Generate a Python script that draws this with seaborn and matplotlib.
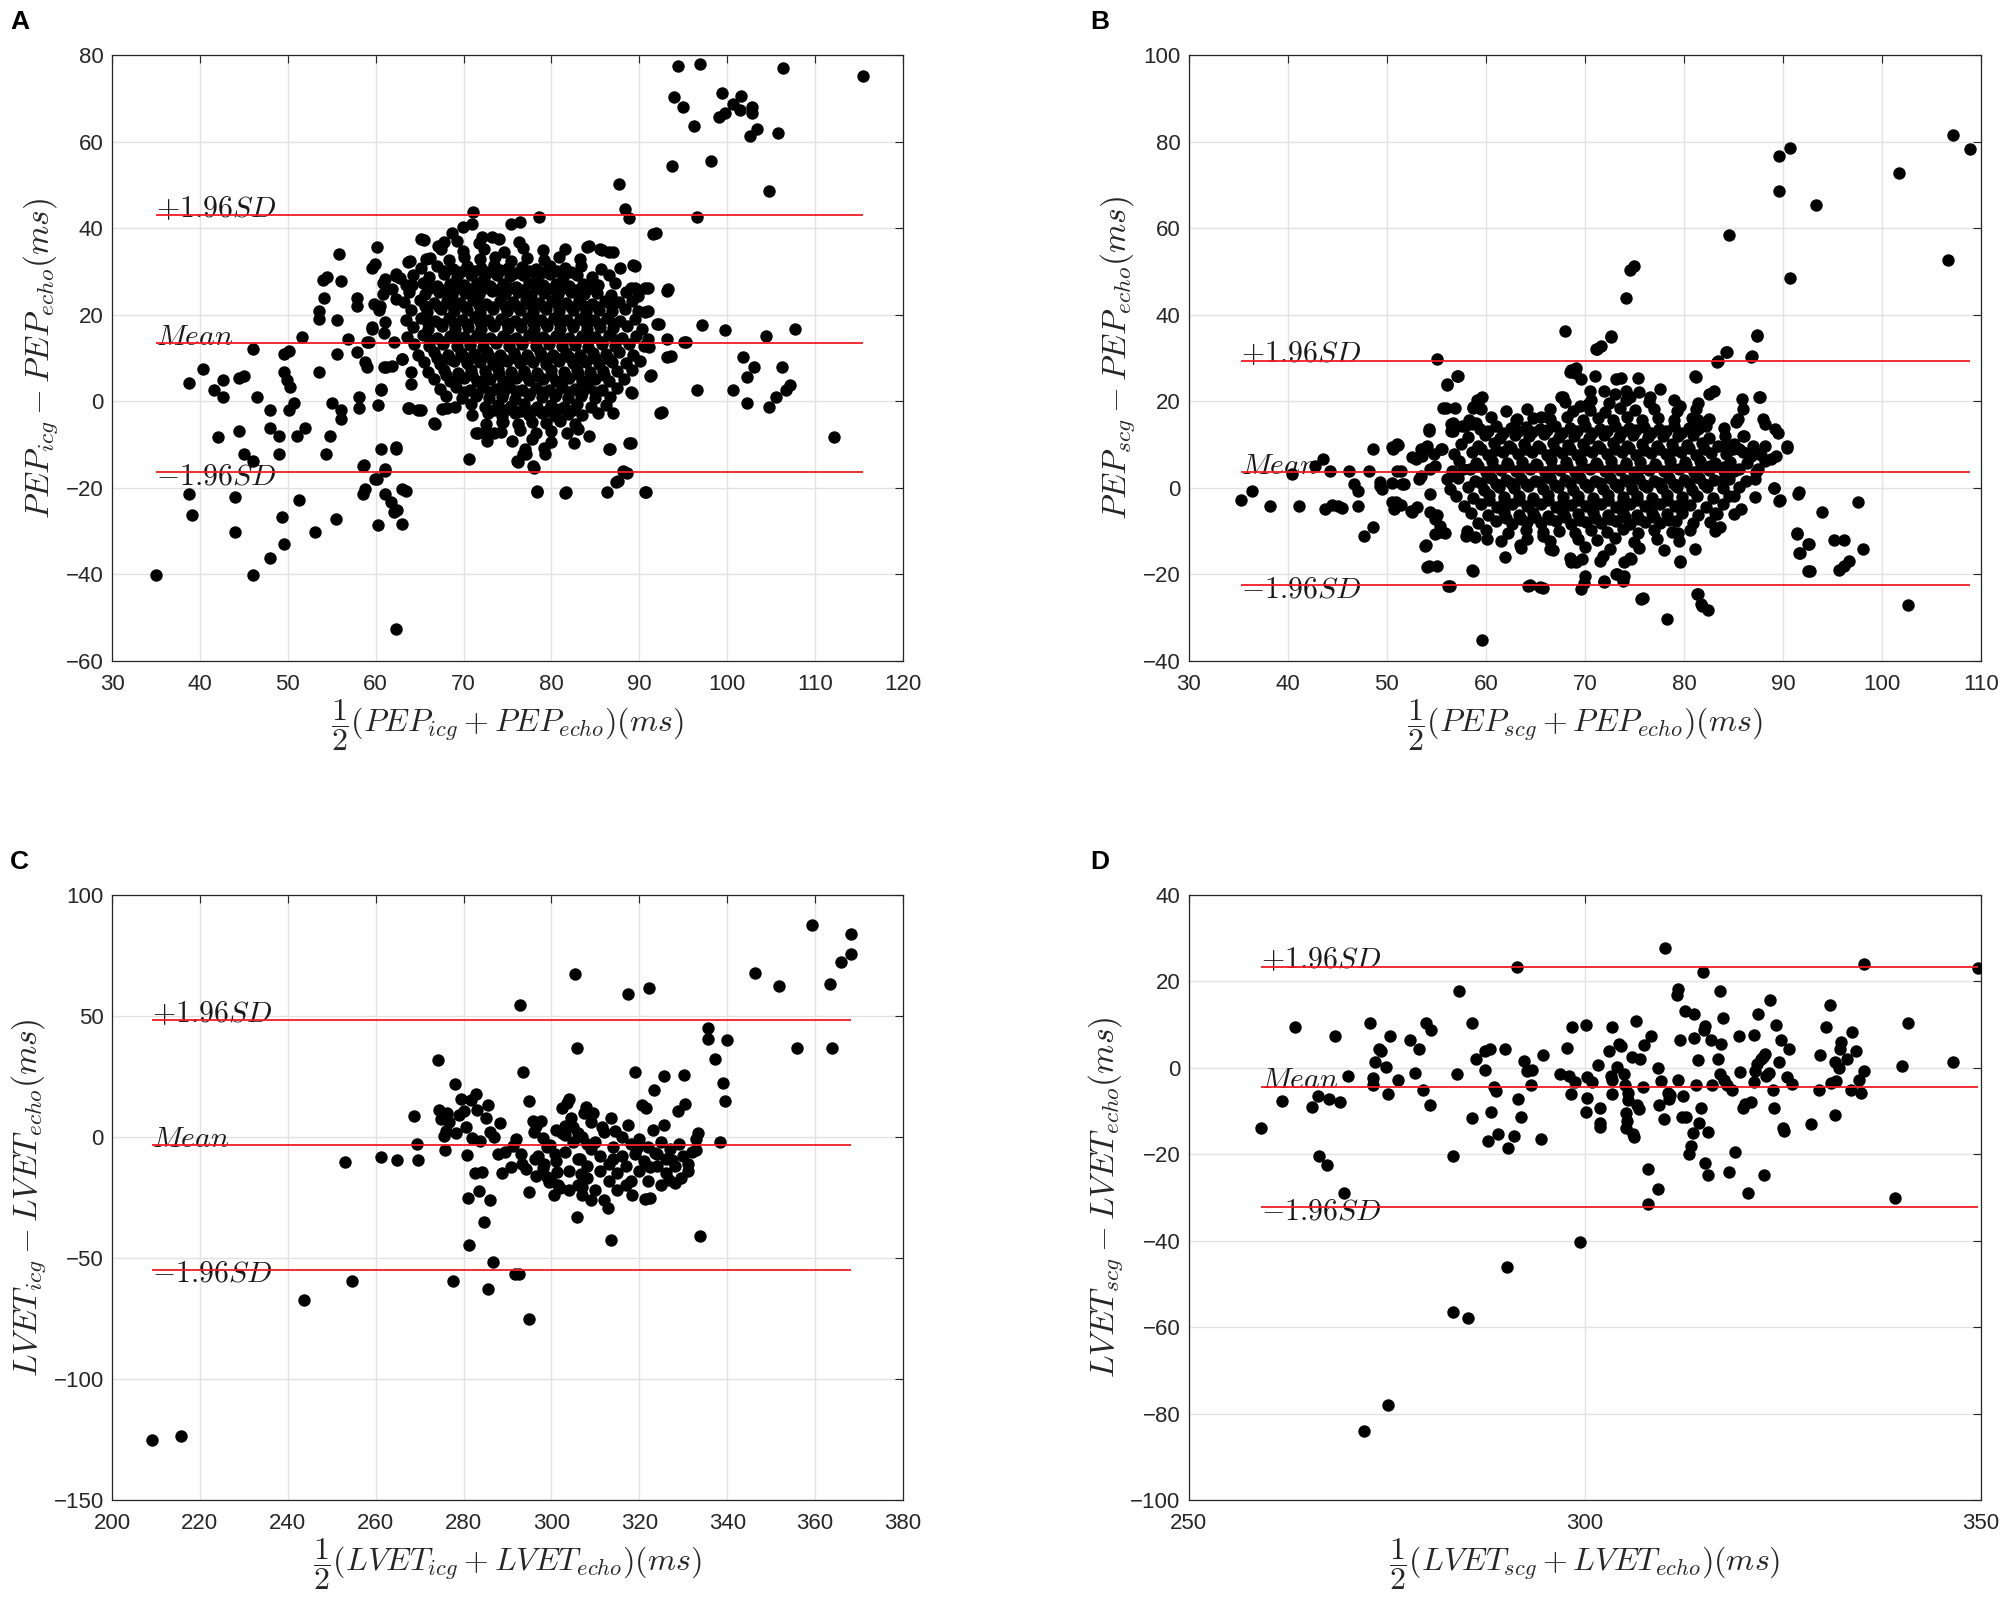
import pandas as pd
import matplotlib
matplotlib.use('Agg')
import matplotlib.pyplot as plt
import seaborn as sns

# valores: (media dos dois metodos, diferenca) em ms

# painel A - PEP icg x echo
a_esparsos = [
    (35.0, -40.1), (38.8, 4.2), (38.8, -21.5), (39.1, -26.2), (40.3, 7.4), (41.6, 2.6), (42.1, -8.2),
    (42.6, 5.0), (42.6, 0.9), (44.0, -22.1), (44.0, -30.1), (44.4, -6.8), (44.4, 5.3), (45.0, 5.8),
    (45.0, -12.1), (46.0, 12.0), (46.0, -13.8), (46.0, -40.1), (46.5, 0.9), (48.0, -36.2), (48.0, -2.1),
    (48.0, -6.2), (49.0, -8.0), (49.0, -12.1), (49.3, -26.8), (49.6, -33.0), (49.6, 6.8), (49.6, 10.9),
    (49.9, 5.0), (50.1, 11.7), (50.3, 3.2), (50.1, -2.1), (50.7, -0.3), (51.0, -8.0), (51.3, -22.7),
    (51.6, 14.8), (52.0, -6.2), (53.1, -30.1), (53.6, 6.8), (53.6, 20.9), (53.6, 19.1), (54.0, 28.0),
    (54.1, 23.8), (54.5, 28.8), (54.3, -12.1), (54.8, -8.0), (55.0, -0.3), (55.5, -27.1), (55.6, 18.8),
    (55.6, 10.9), (55.8, 34.1), (56.1, 27.7), (56.1, -2.1), (56.1, -4.1), (56.9, 14.4), (57.9, 23.8),
    (57.9, 22.0), (57.9, 11.5), (58.1, 0.9), (58.1, -1.5), (58.5, -15.0), (58.5, -21.3), (58.8, -20.3),
    (58.8, 9.1), (59.0, 8.0), (59.2, 13.8), (59.6, 16.8), (59.6, 30.9), (59.9, 31.7), (60.1, 35.6),
    (59.9, -18.0), (60.3, -0.9), (60.3, -28.6), (60.6, 2.6), (60.6, -10.9), (60.5, 22.0), (60.8, 27.4),
    (61.1, 28.2), (60.8, 24.7), (61.1, -15.6), (61.1, -21.5), (61.2, 8.0), (61.7, -23.3), (62.1, -25.6),
    (62.3, -10.9), (62.3, -52.7), (62.4, -25.0), (62.3, 29.0), (62.8, 28.5), (63.0, -20.3), (63.0, -28.3),
    (63.0, 9.7), (63.7, -1.5), (63.7, 32.1), (64.1, 26.8), (64.8, -2.1), (65.2, 37.4), (66.6, -5.0),
    (68.1, -1.5), (69.9, 40.3), (71.0, 40.9), (70.6, -13.3), (71.1, 43.8), (71.4, -7.4), (72.5, -6.8),
    (73.2, 38.0), (75.4, 40.9), (76.4, 41.5), (76.1, -13.8), (76.8, -12.1), (77.9, -15.0), (78.3, -20.9),
    (78.6, 42.7), (79.3, -12.1), (81.5, -21.1), (82.6, -9.7), (84.1, 35.6), (85.5, 35.1), (86.6, 34.4),
    (86.3, -20.9), (86.6, -10.9), (87.0, -2.7), (87.3, -18.6), (87.7, 50.3), (88.1, -16.2), (88.4, 44.4),
    (88.8, 42.3), (88.8, -9.7), (89.1, 2.1), (89.3, 31.5), (89.5, 26.2), (89.9, 24.4), (90.6, -20.9),
    (90.6, 26.2), (91.0, 20.9), (91.0, 14.4), (91.2, 5.8), (91.5, 38.6), (92.0, 17.9), (92.4, -2.7),
    (93.1, 25.6), (93.1, 10.3), (93.7, 54.4), (93.9, 70.3), (94.4, 77.4), (95.0, 68.0), (95.1, 13.8),
    (96.2, 63.5), (96.6, 42.7), (96.6, 2.6), (96.9, 78.0), (97.1, 17.7), (98.1, 55.6), (99.1, 65.6),
    (99.4, 71.2), (99.7, 66.6), (99.7, 16.4), (100.6, 2.6), (100.6, 68.6), (101.5, 67.4), (101.6, 70.6),
    (101.8, 10.3), (102.2, 5.6), (102.2, -0.3), (102.6, 61.2), (102.8, 68.0), (102.8, 66.6), (103.1, 7.9),
    (103.4, 62.9), (104.4, 15.0), (104.7, 48.6), (104.7, -1.2), (105.6, 0.9), (105.8, 62.1), (106.2, 7.9),
    (106.4, 77.1), (106.7, 2.6), (107.1, 3.8), (107.7, 16.8), (112.1, -8.3), (115.4, 75.1),
    (72.1, 37.9), (68.7, 39.0), (65.5, 37.3), (67.1, 36.0), (67.8, 36.7), (63.9, 32.5), (65.7, 32.9),
    (62.3, 29.4), (61.9, 26.0), (62.3, 23.6), (59.8, 22.5), (60.4, 21.0), (59.6, 17.1), (61.1, 18.3),
    (61.0, 15.9), (59.0, 13.6), (62.1, 13.6), (63.0, 9.8), (61.9, 8.2), (60.9, 7.9), (64.0, 6.7),
    (64.0, 4.0), (60.6, 2.9), (63.8, -1.6), (65.1, -2.1), (66.7, -5.2), (67.6, -1.8), (71.6, -7.2),
    (72.7, -9.1), (73.5, -7.2), (74.4, -4.8), (76.2, -13.9), (77.1, -12.2), (62.3, -10.6), (58.7, -14.8),
    (61.1, -16.0), (60.2, -17.9), (63.4, -20.6), (88.6, -16.5), (87.6, -18.5), (90.8, -21.0), (81.7, -21.0),
    (78.4, -20.6), (78.0, -15.5), (84.3, -8.1), (83.0, -6.4), (86.7, -11.0), (89.0, -9.6), (92.6, -2.5),
    (91.3, 6.0), (89.2, 1.9), (91.1, 12.5), (93.6, 10.5), (93.2, 14.4), (95.3, 13.6), (92.2, 17.9),
    (90.7, 20.7), (93.3, 26.0), (91.0, 26.3), (89.0, 26.3), (89.5, 31.3), (87.8, 30.8), (87.0, 34.4),
    (85.7, 35.0), (84.3, 35.8), (91.9, 38.9),
]
a_nucleo = [
    (69.2, 37.1), (71.8, 36.6), (74.0, 37.4), (76.3, 36.8),
    (67.4, 35.3), (69.9, 34.7), (72.3, 35.1), (74.6, 34.6), (76.8, 35.4), (79.0, 34.9), (81.5, 35.2),
    (66.2, 33.1), (68.3, 32.6), (70.1, 33.4), (71.9, 32.8), (73.6, 33.3), (75.4, 32.5), (77.2, 33.2),
    (79.1, 32.7), (80.9, 33.4), (83.2, 32.9),
    (65.1, 30.8), (67.0, 31.3), (68.8, 30.6), (70.4, 31.2), (72.0, 30.7), (73.5, 31.4), (75.0, 30.9),
    (76.6, 31.1), (78.2, 30.5), (79.8, 31.3), (81.5, 30.8), (83.4, 31.2), (85.6, 30.6),
    (64.3, 29.2), (66.1, 28.7), (67.8, 29.4), (69.3, 28.8), (70.8, 29.1), (72.3, 28.5), (73.8, 29.3),
    (75.3, 28.9), (76.8, 29.2), (78.3, 28.6), (79.8, 29.4), (81.3, 28.8), (82.9, 29.1), (84.6, 28.7),
    (86.5, 29.2),
    (63.5, 26.8), (65.4, 27.3), (67.0, 26.6), (68.5, 27.2), (70.0, 26.9), (71.5, 27.4), (73.0, 26.7),
    (74.5, 27.1), (76.0, 26.5), (77.5, 27.3), (79.0, 26.8), (80.5, 27.2), (82.0, 26.6), (83.6, 27.1),
    (85.3, 26.9), (87.2, 27.3),
    (63.8, 25.2), (65.6, 24.7), (67.2, 25.3), (68.7, 24.6), (70.2, 25.1), (71.7, 24.8), (73.2, 25.4),
    (74.7, 24.9), (76.2, 25.2), (77.7, 24.5), (79.2, 25.1), (80.7, 24.8), (82.2, 25.3), (83.7, 24.7),
    (85.2, 25.0), (86.8, 24.6), (88.5, 25.2),
    (63.2, 22.9), (65.0, 23.3), (66.6, 22.7), (68.1, 23.2), (69.6, 22.8), (71.1, 23.4), (72.6, 22.6),
    (74.1, 23.1), (75.6, 22.9), (77.1, 23.3), (78.6, 22.7), (80.1, 23.2), (81.6, 22.8), (83.1, 23.4),
    (84.6, 22.6), (86.1, 23.1), (87.7, 22.9), (89.2, 23.2),
    (64.0, 21.2), (65.8, 20.7), (67.4, 21.3), (68.9, 20.8), (70.4, 21.1), (71.9, 20.6), (73.4, 21.4),
    (74.9, 20.9), (76.4, 21.2), (77.9, 20.7), (79.4, 21.3), (80.9, 20.8), (82.4, 21.1), (83.9, 20.6),
    (85.4, 21.2), (86.9, 20.9), (88.4, 21.3), (89.9, 20.8),
    (63.4, 18.8), (65.2, 19.3), (66.8, 18.6), (68.3, 19.2), (69.8, 18.9), (71.3, 19.4), (72.8, 18.7),
    (74.3, 19.1), (75.8, 18.6), (77.3, 19.3), (78.8, 18.8), (80.3, 19.2), (81.8, 18.7), (83.3, 19.1),
    (84.8, 18.9), (86.3, 19.3), (87.8, 18.6), (89.5, 19.1),
    (64.2, 17.2), (65.9, 16.7), (67.5, 17.3), (69.0, 16.8), (70.5, 17.1), (72.0, 16.6), (73.5, 17.4),
    (75.0, 16.9), (76.5, 17.2), (78.0, 16.7), (79.5, 17.3), (81.0, 16.8), (82.5, 17.1), (84.0, 16.6),
    (85.5, 17.2), (87.0, 16.9), (88.6, 17.3), (90.3, 16.8),
    (63.6, 14.8), (65.4, 15.3), (67.0, 14.6), (68.5, 15.2), (70.0, 14.9), (71.5, 15.4), (73.0, 14.7),
    (74.5, 15.1), (76.0, 14.6), (77.5, 15.3), (79.0, 14.8), (80.5, 15.2), (82.0, 14.7), (83.5, 15.1),
    (85.0, 14.9), (86.5, 15.3), (88.0, 14.6), (89.6, 15.1),
    (64.4, 13.2), (66.1, 12.7), (67.7, 13.3), (69.2, 12.8), (70.7, 13.1), (72.2, 12.6), (73.7, 13.4),
    (75.2, 12.9), (76.7, 13.2), (78.2, 12.7), (79.7, 13.3), (81.2, 12.8), (82.7, 13.1), (84.2, 12.6),
    (85.7, 13.2), (87.2, 12.9), (88.8, 13.3), (90.5, 12.8),
    (64.8, 10.8), (66.6, 11.3), (68.2, 10.6), (69.7, 11.2), (71.2, 10.9), (72.7, 11.4), (74.2, 10.7),
    (75.7, 11.1), (77.2, 10.6), (78.7, 11.3), (80.2, 10.8), (81.7, 11.2), (83.2, 10.7), (84.7, 11.1),
    (86.2, 10.9), (87.7, 11.3), (89.3, 10.7),
    (65.5, 9.2), (67.3, 8.7), (68.9, 9.3), (70.4, 8.8), (71.9, 9.1), (73.4, 8.6), (74.9, 9.4),
    (76.4, 8.9), (77.9, 9.2), (79.4, 8.7), (80.9, 9.3), (82.4, 8.8), (83.9, 9.1), (85.4, 8.6),
    (86.9, 9.2), (88.5, 8.9), (90.1, 9.3),
    (66.0, 6.8), (67.8, 7.3), (69.4, 6.6), (70.9, 7.2), (72.4, 6.9), (73.9, 7.4), (75.4, 6.7),
    (76.9, 7.1), (78.4, 6.6), (79.9, 7.3), (81.4, 6.8), (82.9, 7.2), (84.4, 6.7), (85.9, 7.1),
    (87.5, 6.9), (89.2, 7.3),
    (66.6, 5.2), (68.4, 4.7), (70.0, 5.3), (71.5, 4.8), (73.0, 5.1), (74.5, 4.6), (76.0, 5.4),
    (77.5, 4.9), (79.0, 5.2), (80.5, 4.7), (82.0, 5.3), (83.5, 4.8), (85.0, 5.1), (86.6, 4.6), (88.3, 5.2),
    (67.3, 2.8), (69.1, 3.3), (70.7, 2.6), (72.2, 3.2), (73.7, 2.9), (75.2, 3.4), (76.7, 2.7),
    (78.2, 3.1), (79.7, 2.6), (81.2, 3.3), (82.7, 2.8), (84.2, 3.2), (85.8, 2.7), (87.5, 3.1),
    (68.0, 1.2), (69.8, 0.7), (71.4, 1.3), (72.9, 0.8), (74.4, 1.1), (75.9, 0.6), (77.4, 1.4),
    (78.9, 0.9), (80.4, 1.2), (81.9, 0.7), (83.4, 1.3), (85.0, 0.8), (86.7, 1.1),
    (69.0, -1.2), (70.8, -0.7), (72.4, -1.3), (73.9, -0.8), (75.4, -1.1), (76.9, -0.6), (78.4, -1.4),
    (79.9, -0.9), (81.4, -1.2), (82.9, -0.7), (84.5, -1.3), (86.2, -0.8),
    (71.0, -3.2), (72.8, -2.7), (74.4, -3.3), (75.9, -2.8), (77.4, -3.1), (78.9, -2.6), (80.4, -3.4),
    (81.9, -2.9), (83.5, -3.2), (85.3, -2.7),
    (72.6, -5.2), (74.5, -4.7), (76.2, -5.3), (77.8, -4.8), (79.4, -5.1), (81.0, -4.6), (82.7, -5.2),
    (74.3, -7.1), (76.4, -6.7), (78.2, -7.3), (80.0, -6.8), (81.8, -7.2),
    (75.5, -9.2), (77.8, -8.7), (79.9, -9.3), (77.0, -11.1), (79.2, -10.7),
]
a_miolo = [
    (67.8, 30.1), (69.6, 29.8), (71.2, 30.2), (72.8, 29.9), (74.2, 30.3), (75.8, 29.7), (77.4, 30.1),
    (79.0, 29.8), (80.6, 30.2), (82.2, 29.9),
    (66.2, 26.1), (67.8, 25.8), (69.3, 26.2), (70.8, 25.9), (72.3, 26.3), (73.8, 25.7), (75.3, 26.1),
    (76.8, 25.8), (78.3, 26.2), (79.8, 25.9), (81.3, 26.3), (82.8, 25.7), (84.4, 26.1),
    (65.6, 22.1), (67.2, 21.8), (68.7, 22.2), (70.2, 21.9), (71.7, 22.3), (73.2, 21.7), (74.7, 22.1),
    (76.2, 21.8), (77.7, 22.2), (79.2, 21.9), (80.7, 22.3), (82.2, 21.7), (83.7, 22.1), (85.2, 21.8),
    (86.8, 22.2),
    (65.9, 18.1), (67.4, 17.8), (68.9, 18.2), (70.4, 17.9), (71.9, 18.3), (73.4, 17.7), (74.9, 18.1),
    (76.4, 17.8), (77.9, 18.2), (79.4, 17.9), (80.9, 18.3), (82.4, 17.7), (83.9, 18.1), (85.4, 17.8),
    (87.0, 18.2),
    (66.2, 14.1), (67.7, 13.8), (69.2, 14.2), (70.7, 13.9), (72.2, 14.3), (73.7, 13.7), (75.2, 14.1),
    (76.7, 13.8), (78.2, 14.2), (79.7, 13.9), (81.2, 14.3), (82.7, 13.7), (84.2, 14.1), (85.7, 13.8),
    (87.3, 14.2),
    (67.0, 10.1), (68.5, 9.8), (70.0, 10.2), (71.5, 9.9), (73.0, 10.3), (74.5, 9.7), (76.0, 10.1),
    (77.5, 9.8), (79.0, 10.2), (80.5, 9.9), (82.0, 10.3), (83.5, 9.7), (85.0, 10.1), (86.5, 9.8),
    (68.0, 6.1), (69.5, 5.8), (71.0, 6.2), (72.5, 5.9), (74.0, 6.3), (75.5, 5.7), (77.0, 6.1),
    (78.5, 5.8), (80.0, 6.2), (81.5, 5.9), (83.0, 6.3), (84.5, 5.7), (86.0, 6.1),
    (70.0, 2.1), (71.5, 1.8), (73.0, 2.2), (74.5, 1.9), (76.0, 2.3), (77.5, 1.7), (79.0, 2.1),
    (80.5, 1.8), (82.0, 2.2), (83.5, 1.9), (85.0, 2.1),
    (73.5, -2.1), (75.0, -1.8), (76.5, -2.2), (78.0, -1.9), (79.5, -2.3), (81.0, -1.7), (82.5, -2.1),
]
a_media, a_sup, a_inf = 13.4, 43.0, -16.3

# painel B - PEP scg x echo
b_esparsos = [
    (35.3, -2.7), (36.4, -0.7), (38.2, -4.2), (40.4, 3.2), (41.1, -4.2), (42.7, 5.0), (43.5, 6.7),
    (43.7, -4.8), (44.2, 3.8), (44.5, -3.9), (45.1, -4.2), (45.5, -4.6), (46.2, 3.8), (46.7, 0.9),
    (47.1, -0.6), (47.1, -4.2), (47.7, -11.2), (48.2, 3.8), (48.6, -9.1), (48.6, 9.1), (49.3, 1.4),
    (49.5, -0.3), (50.6, 9.1), (50.9, -3.3), (51.1, 9.9), (51.4, -3.9), (51.4, 3.8), (51.7, 0.9),
    (52.5, -5.6), (52.9, 6.7), (53.2, 2.0), (53.5, 7.3), (53.8, 9.1), (53.8, -13.5), (54.2, -18.0),
    (54.3, 13.2), (54.8, 7.9), (55.1, -18.0), (55.1, 29.7), (55.1, -6.2), (55.6, 9.1), (55.9, -10.3),
    (56.1, 23.8), (56.0, 18.5), (56.4, -22.7), (56.7, 15.0), (56.7, 13.2), (56.9, 18.5), (57.2, 25.8),
    (57.7, 4.4), (58.0, -11.2), (58.7, -19.2), (58.7, 18.5), (59.0, 15.0), (59.2, 19.7), (59.6, 21.1),
    (59.6, -35.1), (64.5, -22.4), (65.8, -23.1), (68.0, 36.2), (67.8, 21.0), (68.6, 27.3), (69.0, 26.5),
    (68.6, -17.0), (69.6, -23.3), (69.9, -22.0), (71.1, 32.0), (71.6, 32.8), (71.9, -21.5), (71.5, -16.8),
    (72.6, 34.8), (73.2, -20.0), (73.8, -21.5), (74.1, 43.8), (74.6, 50.3), (75.0, 51.3), (75.7, -25.6),
    (78.3, -30.3), (79.6, -16.8), (81.2, 25.6), (81.4, -24.5), (81.7, -26.8), (82.4, -28.3), (83.3, 29.1),
    (84.3, 31.5), (84.6, 58.5), (86.8, 30.3), (87.4, 35.2), (87.6, 20.9), (89.1, -0.1), (89.6, -3.0),
    (89.6, 68.6), (89.6, 76.6), (90.4, 9.3), (90.7, 78.6), (90.7, 48.5), (91.5, -1.3), (91.4, -10.7),
    (91.6, -15.0), (92.6, -13.0), (92.7, -19.2), (93.3, 65.3), (93.9, -5.6), (95.2, -12.1), (95.7, -18.9),
    (96.2, -18.0), (96.7, -16.8), (96.2, -12.1), (97.6, -3.3), (98.1, -14.1), (101.7, 72.7), (102.6, -27.0),
    (106.7, 52.7), (107.2, 81.5), (108.9, 78.2),
    (57.1, 25.9), (56.1, 24.0), (55.7, 18.5), (56.5, 14.8), (56.5, 13.2), (57.9, 14.4), (58.6, 14.8),
    (58.7, 18.6), (59.1, 20.2), (54.3, 13.6), (50.5, 9.4), (51.0, 10.1), (52.5, 7.1), (53.4, 9.0),
    (54.0, 9.8), (55.5, 9.0), (51.0, 4.0), (53.4, 2.8), (54.4, 4.4), (54.9, 5.1), (56.1, 2.1),
    (49.3, 0.5), (50.5, 1.1), (51.5, 0.9), (54.4, -1.4), (50.5, -3.3), (50.7, -4.9), (52.4, -5.3),
    (53.0, -4.5), (54.4, -5.6), (54.9, -7.2), (55.4, -8.7), (53.9, -13.3), (54.9, -10.6), (55.4, -10.1),
    (54.0, -18.2), (56.2, -22.6), (58.6, -18.9), (58.1, -9.9), (58.9, -11.4), (60.1, -11.8), (61.9, -16.0),
    (64.3, -22.6), (65.5, -23.0), (63.4, -13.3), (65.8, -11.0), (66.5, -14.1), (67.6, 20.9), (63.1, 15.9),
    (64.1, 18.2), (65.6, 16.3), (68.5, 26.7), (69.1, 27.8), (69.6, 25.2), (69.5, 19.0), (70.3, 19.4),
    (69.1, -17.2), (69.7, -16.4), (70.0, -20.3), (72.6, 35.0), (71.2, 32.1), (71.0, 25.9), (73.1, 25.1),
    (73.6, 25.5), (75.4, 25.3), (74.1, 22.5), (74.6, 20.9), (76.6, 20.9), (77.6, 22.8), (71.9, 22.5),
    (79.6, 19.0), (81.1, 25.9), (81.4, 19.6), (81.4, 15.8), (81.4, 13.6), (82.5, 21.7), (83.0, 22.5),
    (83.4, 29.4), (84.4, 31.3), (86.9, 30.4), (87.4, 35.3), (85.9, 20.5), (87.7, 20.9), (86.0, 18.2),
    (85.5, 15.9), (85.3, 15.2), (86.1, 11.9), (88.0, 15.9), (88.2, 14.8), (88.2, 9.8), (89.2, 13.6),
    (89.5, 12.8), (90.4, 9.6), (84.1, 9.8), (85.0, 9.0), (85.6, 9.0), (86.8, 7.4), (87.3, 8.1),
    (88.8, 6.7), (89.3, 7.4), (87.5, 4.4), (87.2, 2.1), (82.6, 5.1), (84.0, 4.8), (85.1, 4.0),
    (84.1, 2.1), (89.1, -0.1), (89.7, -2.9), (91.6, -1.0), (85.1, -1.8), (87.2, -2.2), (85.1, -6.0),
    (85.8, -4.9), (83.3, -6.0), (83.1, -9.9), (83.6, -9.1), (81.1, -14.0), (79.6, -17.0), (79.4, -10.3),
    (81.3, -24.5), (81.8, -27.2), (75.9, -25.5), (71.9, -21.8), (73.9, -20.3), (73.1, -20.0), (73.9, -17.2),
    (74.7, -16.4), (91.4, -10.3), (91.7, -15.0), (92.5, -13.0), (92.5, -19.1),
]
b_nucleo = [
    (70.5, 22.3), (73.0, 21.7), (75.5, 22.1),
    (68.0, 19.8), (70.6, 20.3), (72.4, 19.7), (74.2, 20.2), (76.5, 19.9), (79.0, 20.3),
    (59.5, 18.2), (62.0, 17.7), (66.5, 18.3), (68.8, 17.8), (70.5, 18.1), (72.0, 17.6), (73.5, 18.4),
    (75.1, 17.9), (77.0, 18.2), (79.3, 17.7), (81.2, 18.3),
    (58.3, 15.8), (60.5, 16.3), (63.0, 15.6), (64.8, 16.2), (66.5, 15.9), (68.2, 16.4), (69.8, 15.7),
    (71.3, 16.1), (72.8, 15.6), (74.3, 16.3), (75.8, 15.8), (77.4, 16.2), (79.0, 15.7), (80.8, 16.1),
    (82.5, 15.9),
    (57.6, 14.2), (59.4, 13.7), (61.0, 14.3), (62.5, 13.8), (64.0, 14.1), (65.5, 13.6), (67.0, 14.4),
    (68.5, 13.9), (70.0, 14.2), (71.5, 13.7), (73.0, 14.3), (74.5, 13.8), (76.0, 14.1), (77.5, 13.6),
    (79.0, 14.2), (80.5, 13.9), (82.2, 14.3), (84.0, 13.8),
    (58.2, 11.8), (59.9, 12.3), (61.4, 11.6), (62.9, 12.2), (64.4, 11.9), (65.9, 12.4), (67.4, 11.7),
    (68.9, 12.1), (70.4, 11.6), (71.9, 12.3), (73.4, 11.8), (74.9, 12.2), (76.4, 11.7), (77.9, 12.1),
    (79.4, 11.9), (80.9, 12.3), (82.5, 11.6), (84.2, 12.1), (86.0, 11.9),
    (57.5, 10.2), (59.2, 9.7), (60.8, 10.3), (62.3, 9.8), (63.8, 10.1), (65.3, 9.6), (66.8, 10.4),
    (68.3, 9.9), (69.8, 10.2), (71.3, 9.7), (72.8, 10.3), (74.3, 9.8), (75.8, 10.1), (77.3, 9.6),
    (78.8, 10.2), (80.3, 9.9), (81.8, 10.3), (83.4, 9.8), (85.1, 10.1), (87.0, 9.7),
    (56.8, 7.8), (58.6, 8.3), (60.2, 7.6), (61.7, 8.2), (63.2, 7.9), (64.7, 8.4), (66.2, 7.7),
    (67.7, 8.1), (69.2, 7.6), (70.7, 8.3), (72.2, 7.8), (73.7, 8.2), (75.2, 7.7), (76.7, 8.1),
    (78.2, 7.9), (79.7, 8.3), (81.2, 7.6), (82.7, 8.1), (84.3, 7.9), (86.0, 8.3), (87.8, 7.7),
    (57.3, 6.2), (59.0, 5.7), (60.6, 6.3), (62.1, 5.8), (63.6, 6.1), (65.1, 5.6), (66.6, 6.4),
    (68.1, 5.9), (69.6, 6.2), (71.1, 5.7), (72.6, 6.3), (74.1, 5.8), (75.6, 6.1), (77.1, 5.6),
    (78.6, 6.2), (80.1, 5.9), (81.6, 6.3), (83.1, 5.8), (84.7, 6.1), (86.4, 5.7), (88.2, 6.2),
    (56.6, 3.8), (58.4, 4.3), (60.0, 3.6), (61.5, 4.2), (63.0, 3.9), (64.5, 4.4), (66.0, 3.7),
    (67.5, 4.1), (69.0, 3.6), (70.5, 4.3), (72.0, 3.8), (73.5, 4.2), (75.0, 3.7), (76.5, 4.1),
    (78.0, 3.9), (79.5, 4.3), (81.0, 3.6), (82.5, 4.1), (84.0, 3.9), (85.6, 4.3), (87.3, 3.7),
    (57.2, 2.2), (58.9, 1.7), (60.5, 2.3), (62.0, 1.8), (63.5, 2.1), (65.0, 1.6), (66.5, 2.4),
    (68.0, 1.9), (69.5, 2.2), (71.0, 1.7), (72.5, 2.3), (74.0, 1.8), (75.5, 2.1), (77.0, 1.6),
    (78.5, 2.2), (80.0, 1.9), (81.5, 2.3), (83.0, 1.8), (84.6, 2.1), (86.3, 1.7),
    (56.4, -0.2), (58.2, 0.3), (59.8, -0.4), (61.3, 0.2), (62.8, -0.1), (64.3, 0.4), (65.8, -0.3),
    (67.3, 0.1), (68.8, -0.4), (70.3, 0.3), (71.8, -0.2), (73.3, 0.2), (74.8, -0.3), (76.3, 0.1),
    (77.8, -0.1), (79.3, 0.3), (80.8, -0.4), (82.3, 0.1), (83.9, -0.1), (85.6, 0.3),
    (57.0, -1.8), (58.7, -2.3), (60.3, -1.7), (61.8, -2.2), (63.3, -1.9), (64.8, -2.4), (66.3, -1.6),
    (67.8, -2.1), (69.3, -1.8), (70.8, -2.3), (72.3, -1.7), (73.8, -2.2), (75.3, -1.9), (76.8, -2.3),
    (78.3, -1.6), (79.8, -2.1), (81.3, -1.9), (82.9, -2.3), (84.6, -1.8),
    (57.8, -4.2), (59.5, -3.7), (61.1, -4.3), (62.6, -3.8), (64.1, -4.1), (65.6, -3.6), (67.1, -4.4),
    (68.6, -3.9), (70.1, -4.2), (71.6, -3.7), (73.1, -4.3), (74.6, -3.8), (76.1, -4.1), (77.6, -3.6),
    (79.1, -4.2), (80.6, -3.9), (82.2, -4.3), (83.9, -3.8),
    (58.5, -5.8), (60.2, -6.3), (61.8, -5.6), (63.3, -6.2), (64.8, -5.9), (66.3, -6.4), (67.8, -5.7),
    (69.3, -6.1), (70.8, -5.6), (72.3, -6.3), (73.8, -5.8), (75.3, -6.2), (76.8, -5.7), (78.3, -6.1),
    (79.8, -5.9), (81.4, -6.3), (83.1, -5.7),
    (59.2, -8.2), (61.0, -7.7), (62.6, -8.3), (64.1, -7.8), (65.6, -8.1), (67.1, -7.6), (68.6, -8.4),
    (70.1, -7.9), (71.6, -8.2), (73.1, -7.7), (74.6, -8.3), (76.1, -7.8), (77.6, -8.1), (79.2, -7.6),
    (80.9, -8.2), (82.6, -7.9),
    (60.0, -9.8), (62.2, -10.3), (64.0, -9.7), (65.8, -10.2), (67.4, -9.9), (69.0, -10.4), (70.6, -9.7),
    (72.2, -10.1), (73.8, -9.6), (75.4, -10.3), (77.0, -9.8), (78.8, -10.2), (80.6, -9.7),
    (61.5, -12.2), (64.2, -11.7), (66.5, -12.3), (69.3, -11.8), (71.2, -12.1), (73.0, -11.6), (75.0, -12.4),
    (77.3, -11.9), (79.5, -12.2),
    (63.5, -13.8), (66.8, -14.3), (70.0, -13.7), (72.5, -14.2), (75.5, -13.9), (78.0, -14.3),
    (68.5, -16.2), (71.8, -15.7), (74.6, -16.3),
]
b_miolo = [
    (60.2, 13.1), (61.7, 12.8), (63.2, 13.2), (64.7, 12.9), (66.2, 13.3), (67.7, 12.7), (69.2, 13.1),
    (70.7, 12.8), (72.2, 13.2), (73.7, 12.9), (75.2, 13.3), (76.7, 12.7), (78.2, 13.1), (79.7, 12.8),
    (59.5, 9.1), (61.0, 8.8), (62.5, 9.2), (64.0, 8.9), (65.5, 9.3), (67.0, 8.7), (68.5, 9.1),
    (70.0, 8.8), (71.5, 9.2), (73.0, 8.9), (74.5, 9.3), (76.0, 8.7), (77.5, 9.1), (79.0, 8.8),
    (80.5, 9.2), (82.0, 8.9),
    (59.2, 5.1), (60.7, 4.8), (62.2, 5.2), (63.7, 4.9), (65.2, 5.3), (66.7, 4.7), (68.2, 5.1),
    (69.7, 4.8), (71.2, 5.2), (72.7, 4.9), (74.2, 5.3), (75.7, 4.7), (77.2, 5.1), (78.7, 4.8),
    (80.2, 5.2), (81.7, 4.9), (83.2, 5.1),
    (59.5, 1.1), (61.0, 0.8), (62.5, 1.2), (64.0, 0.9), (65.5, 1.3), (67.0, 0.7), (68.5, 1.1),
    (70.0, 0.8), (71.5, 1.2), (73.0, 0.9), (74.5, 1.3), (76.0, 0.7), (77.5, 1.1), (79.0, 0.8),
    (80.5, 1.2), (82.0, 0.9),
    (60.3, -2.9), (61.8, -3.2), (63.3, -2.8), (64.8, -3.1), (66.3, -2.7), (67.8, -3.3), (69.3, -2.9),
    (70.8, -3.2), (72.3, -2.8), (73.8, -3.1), (75.3, -2.7), (76.8, -3.3), (78.3, -2.9), (79.8, -3.2),
    (62.0, -6.9), (63.5, -7.2), (65.0, -6.8), (66.5, -7.1), (68.0, -6.7), (69.5, -7.3), (71.0, -6.9),
    (72.5, -7.2), (74.0, -6.8), (75.5, -7.1), (77.0, -6.7), (78.5, -7.3),
]
b_media, b_sup, b_inf = 3.6, 29.4, -22.4

# painel C - LVET icg x echo
c_pontos = [
    (209.1, -125.0), (215.8, -123.7), (243.7, -67.2), (253.1, -10.2), (254.6, -59.3), (261.1, -8.3),
    (264.9, -9.5), (268.7, 8.7), (269.5, -2.8), (269.7, -9.3), (274.2, 31.8), (274.5, 11.0), (274.8, 7.4),
    (275.5, 0.4), (275.8, -5.3), (276.2, 10.0), (276.7, 6.0), (278.1, 22.0), (277.7, -59.3), (278.2, 1.5),
    (278.9, 8.9), (279.4, 15.9), (280.1, 10.6), (280.7, -7.4), (280.9, -25.0), (281.3, -44.5), (281.6, 15.5),
    (282.0, -0.6), (282.7, -15.0), (282.9, 17.6), (283.5, -22.2), (283.8, -1.7), (284.2, -14.4),
    (284.6, -35.0), (285.6, 13.1), (285.9, 2.1), (286.1, -26.0), (285.6, -63.0), (286.8, -51.5),
    (287.8, -7.0), (288.4, 5.7), (288.7, -15.0), (290.7, -12.3), (291.2, -3.8), (291.7, -56.8),
    (292.5, -56.8), (292.9, 54.4), (293.1, -7.0), (293.3, -11.0), (293.6, 26.9), (294.3, -13.3),
    (294.8, 14.8), (294.8, -22.9), (294.9, -75.4), (295.7, 6.8), (296.4, 4.7), (296.2, -9.0), (297.6, 6.8),
    (298.0, -0.6), (298.3, -11.0), (299.0, -16.5), (299.4, -18.6), (299.7, -3.5), (300.7, -7.0),
    (301.2, -14.4), (301.6, -19.7), (302.3, 1.5), (303.0, 4.7), (303.5, 14.2), (304.1, 15.9), (305.4, 67.2),
    (305.7, 36.9), (305.7, -33.0), (306.0, 1.5), (306.4, -9.0), (306.7, -15.4), (307.0, -20.7),
    (307.4, 10.0), (307.8, 12.5), (308.1, -2.8), (312.9, -29.2), (313.5, -42.6), (317.4, 59.1),
    (318.3, -24.0), (319.0, 26.9), (320.5, 13.1), (322.2, 61.7), (321.2, -25.8), (322.4, -25.0),
    (323.4, 19.5), (325.6, 25.4), (326.8, -17.6), (330.2, 25.8), (330.4, 13.6), (328.8, 10.6),
    (331.1, -11.2), (332.8, -5.3), (333.3, 1.5), (333.7, -40.9), (335.7, 44.9), (335.7, 40.7),
    (337.2, 32.2), (338.3, -2.1), (339.0, 22.5), (339.5, 15.0), (340.0, 40.0), (346.3, 67.6),
    (351.7, 62.5), (355.8, 36.7), (359.2, 87.5), (363.5, 63.1), (363.8, 36.7), (365.8, 72.5),
    (368.2, 83.7), (368.2, 75.8),
    (296.0, 2.0), (297.0, -8.0), (298.0, -13.0), (299.0, -4.0), (300.0, -18.0), (301.0, 3.0),
    (301.0, -10.0), (302.0, -21.0), (303.0, -6.0), (303.0, 1.0), (304.0, -14.0), (305.0, 4.0),
    (305.0, -2.0), (306.0, -9.0), (306.0, -20.0), (307.0, -24.0), (307.0, 0.0), (308.0, -12.0),
    (308.0, -17.0), (309.0, -5.0), (309.0, 6.0), (310.0, -22.0), (310.0, -2.0), (311.0, -14.0),
    (311.0, -8.0), (312.0, -26.0), (312.0, 2.0), (313.0, -11.0), (313.0, -18.0), (314.0, -4.0),
    (315.0, -15.0), (315.0, -22.0), (316.0, -8.0), (316.0, 0.0), (317.0, -12.0), (318.0, -18.0),
    (318.0, -3.0), (319.0, -7.0), (320.0, -14.0), (320.0, -1.0), (321.0, -10.0), (322.0, -4.0),
    (322.0, -18.0), (323.0, 3.0), (324.0, -12.0), (324.0, -7.0), (325.0, -2.0), (326.0, -15.0),
    (326.0, -9.0), (327.0, -5.0), (328.0, -19.0), (328.0, -12.0), (329.0, -3.0), (330.0, -8.0),
    (331.0, -14.0), (332.0, -6.0), (333.0, -1.0), (302.5, 12.0), (304.5, 8.0), (309.5, 10.0),
    (311.5, 4.0), (313.5, 8.0), (314.5, 2.5), (317.5, 5.0), (319.5, -4.5), (321.5, 12.0),
    (323.5, -6.5), (325.5, 5.0), (327.5, -9.5), (296.5, -16.0), (300.5, -24.0), (304.0, -22.0),
    (309.0, -26.0), (314.0, -9.0), (317.0, -20.0), (322.5, -12.5), (325.0, -20.0), (329.5, -17.0),
    (285.0, 8.0), (287.0, 0.0), (289.5, -6.0), (292.0, -1.0), (276.0, 2.5), (280.5, 4.0), (283.0, 11.0),
]
c_media, c_sup, c_inf = -3.5, 48.2, -54.8

# painel D - LVET scg x echo
d_pontos = [
    (259.1, -14.0), (261.8, -7.7), (263.4, 9.4), (265.6, -9.0), (266.3, -6.4), (266.4, -20.5),
    (267.4, -22.5), (267.7, -7.1), (268.4, 7.4), (269.1, -8.0), (269.6, -29.0), (270.1, -1.9),
    (272.1, -84.0), (272.9, 10.3), (273.2, -4.0), (273.3, -2.4), (273.5, 1.4), (274.0, 4.4), (274.2, 3.8),
    (274.9, 0.3), (275.1, -6.0), (275.1, -78.0), (275.4, 7.4), (276.4, -2.7), (277.9, 6.4), (278.6, -1.2),
    (279.0, 4.4), (279.6, -5.1), (279.9, 10.3), (280.4, -8.6), (280.6, 8.8), (283.4, -20.5), (283.4, -56.5),
    (283.9, -1.5), (284.1, 17.8), (285.2, -57.9), (285.8, 10.3), (285.8, -11.6), (286.2, 2.0), (287.4, 3.8),
    (287.4, -0.6), (287.7, -17.0), (288.0, 4.4), (288.2, -10.1), (288.5, -4.5), (288.8, -5.4), (289.0, -15.4),
    (289.9, 4.4), (290.1, -46.0), (290.3, -18.5), (291.1, -15.8), (291.4, 23.4), (291.5, -7.1), (291.9, -11.4),
    (292.3, 1.7), (292.7, -0.7), (293.2, -3.9), (293.3, -0.5), (294.5, -16.4), (294.7, 2.9), (296.9, -1.5),
    (297.8, 4.5), (298.0, -1.8), (298.2, -6.0), (298.4, 9.5), (298.7, -3.3), (299.4, -40.4), (300.1, 10.0),
    (300.1, -10.1), (300.3, -2.1), (300.3, -6.9), (300.9, -3.3), (301.7, 0.6), (301.9, -12.8), (301.9, -13.6),
    (301.9, -9.2), (303.1, 3.8), (303.3, -1.9), (303.4, 9.4), (303.4, -2.9), (303.4, -6.0), (304.1, 0.3),
    (304.3, 5.6), (304.6, 5.0), (304.9, -1.5), (305.1, -3.9), (305.2, -10.4), (305.2, -14.0), (305.3, -12.2),
    (305.5, -5.7), (305.5, -7.5), (305.9, 2.6), (306.1, -15.2), (306.2, -16.1), (306.5, 10.9), (306.6, -8.6),
    (306.8, -9.5), (307.0, 2.0), (307.3, -4.5), (307.4, 5.2), (308.0, -23.5), (308.0, -31.5), (308.4, 7.4),
    (309.2, 0.0), (309.2, -28.0), (309.3, -8.6), (309.6, -3.1), (310.0, -11.8), (310.1, 27.8), (310.5, -5.7),
    (310.6, -7.1), (310.8, -6.3), (311.6, 16.9), (311.8, 18.3), (311.8, -2.7), (312.0, 6.4), (312.2, -11.4),
    (312.8, -11.4), (312.4, -6.5), (312.7, 13.1), (313.2, -19.9), (313.4, -18.1), (313.6, -15.0),
    (313.8, 12.5), (313.8, 6.8), (314.0, -3.9), (314.3, 1.8), (314.4, -12.8), (314.7, -9.2), (314.9, 22.2),
    (315.0, 8.8), (315.2, 9.7), (315.2, -21.9), (315.6, -14.8), (315.6, -24.9), (315.9, 6.4), (316.0, -3.9),
    (316.8, 2.0), (317.0, 17.8), (317.1, -1.5), (317.2, 5.6), (317.4, 11.5), (317.6, -2.7), (318.0, -3.9),
    (318.2, -24.1), (318.6, -5.1), (319.0, -19.4), (319.4, 7.4), (319.6, -0.9), (319.9, -9.2), (320.2, -8.3),
    (320.6, -29.0), (321.0, -8.0), (321.3, 7.6), (321.3, -3.3), (321.5, -0.7), (321.7, 0.8), (321.9, 12.4),
    (322.2, 2.0), (322.5, 2.6), (322.7, 3.2), (322.6, -24.9), (322.9, -1.8), (323.3, -1.2), (323.4, 15.7),
    (323.7, -5.1), (323.9, -9.2), (324.1, 10.0), (324.5, 1.4), (324.7, 6.4), (325.0, -14.0), (325.2, -14.6),
    (325.5, -2.1), (325.8, 4.4), (326.1, -3.7), (328.5, -13.0), (329.5, -5.1), (329.7, 2.9), (330.4, 9.4),
    (330.9, 14.5), (331.1, -3.5), (331.6, 1.4), (331.7, -3.1), (331.6, -11.0), (332.2, 4.4), (332.3, 6.0),
    (332.1, -0.1), (333.1, 2.0), (333.6, -5.1), (333.7, 8.3), (334.2, 3.8), (334.6, -2.7), (334.9, -5.7),
    (335.2, 24.0), (335.3, -0.7), (339.2, -30.0), (340.0, 0.5), (340.8, 10.3), (346.5, 1.4), (349.6, 23.0),
]
d_media, d_sup, d_inf = -4.4, 23.3, -32.3

# eixos
a_xticks = [30, 40, 50, 60, 70, 80, 90, 100, 110, 120]
a_yticks = [-60, -40, -20, 0, 20, 40, 60, 80]
b_xticks = [30, 40, 50, 60, 70, 80, 90, 100, 110]
b_yticks = [-40, -20, 0, 20, 40, 60, 80, 100]
c_xticks = [200, 220, 240, 260, 280, 300, 320, 340, 360, 380]
c_yticks = [-150, -100, -50, 0, 50, 100]
d_xticks = [250, 300, 350]
d_yticks = [-100, -80, -60, -40, -20, 0, 20, 40]

sns.set_style('white')
plt.rcParams['font.family'] = ['Liberation Sans', 'DejaVu Sans']
plt.rcParams['mathtext.fontset'] = 'cm'

CINZA = '#262626'

paineis = [
    dict(pts=a_esparsos + a_nucleo + a_miolo, linhas=(a_sup, a_media, a_inf), xt=a_xticks, yt=a_yticks,
         xl=r'$\dfrac{1}{2}(PEP_{icg}+PEP_{echo})(ms)$', yl=r'$PEP_{icg}-PEP_{echo}(ms)$',
         ret=[0.0558, 0.5894, 0.3939, 0.3764], letra='A', lpos=(0.005, 0.994)),
    dict(pts=b_esparsos + b_nucleo + b_miolo, linhas=(b_sup, b_media, b_inf), xt=b_xticks, yt=b_yticks,
         xl=r'$\dfrac{1}{2}(PEP_{scg}+PEP_{echo})(ms)$', yl=r'$PEP_{scg}-PEP_{echo}(ms)$',
         ret=[0.5921, 0.5894, 0.3944, 0.3764], letra='B', lpos=(0.543, 0.994)),
    dict(pts=c_pontos, linhas=(c_sup, c_media, c_inf), xt=c_xticks, yt=c_yticks,
         xl=r'$\dfrac{1}{2}(LVET_{icg}+LVET_{echo})(ms)$', yl=r'$LVET_{icg}-LVET_{echo}(ms)$',
         ret=[0.0558, 0.0683, 0.3939, 0.3758], letra='C', lpos=(0.005, 0.472)),
    dict(pts=d_pontos, linhas=(d_sup, d_media, d_inf), xt=d_xticks, yt=d_yticks,
         xl=r'$\dfrac{1}{2}(LVET_{scg}+LVET_{echo})(ms)$', yl=r'$LVET_{scg}-LVET_{echo}(ms)$',
         ret=[0.5921, 0.0683, 0.3944, 0.3758], letra='D', lpos=(0.543, 0.472)),
]

fig = plt.figure(figsize=(20.08, 16.10), dpi=100)

for p in paineis:
    ax = fig.add_axes(p['ret'])
    df = pd.DataFrame(p['pts'], columns=['media', 'diferenca'])
    sns.scatterplot(data=df, x='media', y='diferenca', ax=ax, color='black', s=80,
                    linewidth=0, legend=False, zorder=3)

    x0, x1 = df['media'].min(), df['media'].max()
    sup, med, inf = p['linhas']
    ax.hlines([sup, med, inf], x0, x1, colors='#f01c24', linewidth=1.3, zorder=4)
    rotulos = [(sup, r'$+1.96SD$', 'baseline', -1), (med, r'$Mean$', 'baseline', -1),
               (inf, r'$-1.96SD$', 'top', 7)]
    for y, txt, va, dy in rotulos:
        ax.annotate(txt, xy=(x0, y), xytext=(0, dy), textcoords='offset points',
                    ha='left', va=va, fontsize=21.5, color='#1a1a1a', zorder=1)

    ax.set_xlim(p['xt'][0], p['xt'][-1])
    ax.set_ylim(p['yt'][0], p['yt'][-1])
    ax.set_xticks(p['xt'])
    ax.set_yticks(p['yt'])
    ax.grid(True, color='#e2e2e2', linewidth=1.0)
    ax.set_axisbelow(True)
    ax.tick_params(direction='in', top=True, right=True, length=6, width=0.8,
                   colors=CINZA, labelsize=16)
    ax.tick_params(axis='x', pad=9)
    ax.tick_params(axis='y', pad=6)
    for s in ax.spines.values():
        s.set_color(CINZA)
        s.set_linewidth(0.9)
    ax.set_xlabel(p['xl'], fontsize=23, color=CINZA, labelpad=2)
    ax.set_ylabel(p['yl'], fontsize=24, color=CINZA, labelpad=4)

    fig.text(p['lpos'][0], p['lpos'][1], p['letra'], fontsize=19, fontweight='bold',
             ha='left', va='top', color='black')

fig.savefig('out.png', dpi=100)
